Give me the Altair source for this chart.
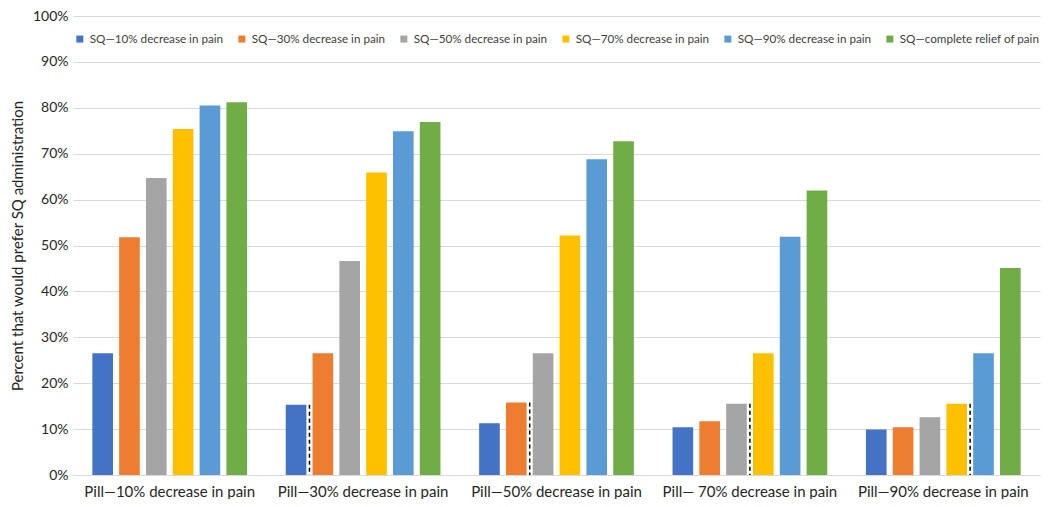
import altair as alt
import pandas as pd

groups = [
    "Pill—10% decrease in pain",
    "Pill—30% decrease in pain",
    "Pill—50% decrease in pain",
    "Pill— 70% decrease in pain",
    "Pill—90% decrease in pain",
]
series = [
    "SQ—10% decrease in pain",
    "SQ—30% decrease in pain",
    "SQ—50% decrease in pain",
    "SQ—70% decrease in pain",
    "SQ—90% decrease in pain",
    "SQ—complete relief of pain",
]
colors = ["#4472C4", "#ED7D31", "#A5A5A5", "#FFC000", "#5B9BD5", "#70AD47"]

sq10 = [26.5, 15.3, 11.3, 10.4, 9.9]
sq30 = [51.8, 26.5, 15.8, 11.7, 10.4]
sq50 = [64.7, 46.6, 26.5, 15.5, 12.6]
sq70 = [75.4, 65.9, 52.2, 26.5, 15.5]
sq90 = [80.5, 74.9, 68.8, 51.9, 26.5]
sqcr = [81.2, 76.9, 72.7, 62.0, 45.1]
series_values = [sq10, sq30, sq50, sq70, sq90, sqcr]

# dashed markers: placed in the gap just right of these bars
dash_groups = groups[1:]
dash_series = series[0:4]

rows = []
for s, vals in zip(series, series_values):
    for g, v in zip(groups, vals):
        rows.append({"group": g, "series": s, "value": v})
df = pd.DataFrame(rows)

drows = []
for g, s in zip(dash_groups, dash_series):
    v = series_values[series.index(s)][groups.index(g)]
    drows.append({"group": g, "series": s, "value": v})
ddf = pd.DataFrame(drows)

FONT = "Lato"

x = alt.X(
    "group:N",
    sort=groups,
    scale=alt.Scale(domain=groups, paddingInner=0.2, paddingOuter=0.1),
    axis=alt.Axis(
        title=None, labelAngle=0, labelFontSize=15, labelFont=FONT,
        labelColor="#262626", ticks=False, domainColor="#d9d9d9",
        labelPadding=9, labelLimit=300,
    ),
)
BAR_GAP = 0.23
xo = alt.XOffset(
    "series:N", sort=series,
    scale=alt.Scale(domain=series, paddingInner=BAR_GAP, paddingOuter=0),
)
# same step as the bars, but centred in the gaps after each bar
xo_rule = alt.XOffset(
    "series:N", sort=series[0:5],
    scale=alt.Scale(domain=series[0:5], paddingInner=0,
                    paddingOuter=(1 - BAR_GAP) / 2),
)
y = alt.Y(
    "value:Q",
    scale=alt.Scale(domain=[0, 100]),
    axis=alt.Axis(
        values=list(range(0, 101, 10)),
        labelExpr="datum.value + '%'",
        title="Percent that would prefer SQ administration",
        titleFont=FONT, titleFontSize=15, titleFontWeight="normal",
        titleColor="#262626", titlePadding=7,
        labelFont=FONT, labelFontSize=14, labelColor="#262626",
        labelPadding=5, domain=False, ticks=False,
        gridColor="#d9d9d9", gridWidth=1,
    ),
)

bars = alt.Chart(df).mark_bar().encode(
    x=x, xOffset=xo, y=y,
    color=alt.Color(
        "series:N",
        scale=alt.Scale(domain=series, range=colors),
        legend=alt.Legend(
            title=None, orient="none", legendX=1, legendY=17,
            direction="horizontal", symbolType="square", symbolSize=49,
            symbolStrokeWidth=0, labelFont=FONT, labelFontSize=11.7,
            labelColor="#404040", columnPadding=12, labelLimit=300,
        ),
    ),
)

rules = alt.Chart(ddf).mark_rule(
    color="black", strokeDash=[4, 3], strokeWidth=1.5
).encode(x=x, xOffset=xo_rule, y=y, y2=alt.datum(0))

chart = (
    alt.layer(bars, rules)
    .resolve_scale(xOffset="independent")
    .properties(
        width=967, height=459,
        autosize=alt.AutoSizeParams(type="none"),
        padding={"left": 65, "top": 8, "right": 2, "bottom": 24},
    )
    .configure_view(stroke=None)
)

chart.save("out.html", embed_options={"renderer": "svg", "actions": False})
